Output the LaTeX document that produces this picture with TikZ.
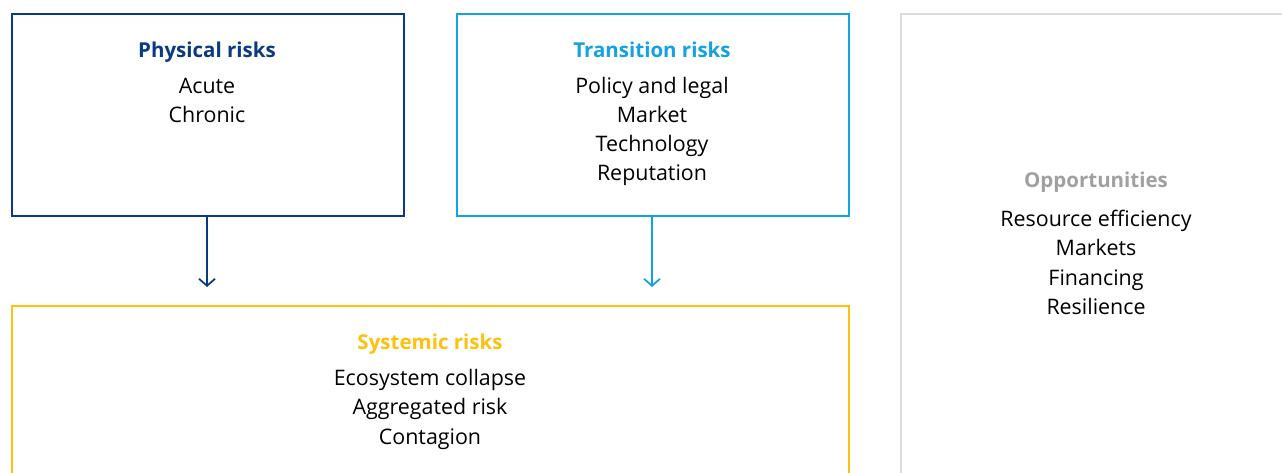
\documentclass[tikz,border=0pt]{standalone}
\usepackage{fontspec}
\setmainfont{Open Sans}
\usetikzlibrary{arrows.meta}
\definecolor{physblue}{HTML}{0B3A84}
\definecolor{transblue}{HTML}{14A2E1}
\definecolor{sysyellow}{HTML}{FFC10E}
\definecolor{oppgray}{HTML}{A0A0A0}
\definecolor{oppline}{HTML}{DCDCDC}
\begin{document}
\begin{tikzpicture}[x=1pt,y=-1pt,
  frame/.style={draw, line width=2pt, fill=none, inner sep=0pt, anchor=north west},
  ttl/.style={anchor=base, inner sep=0pt, font=\fontsize{20.5}{29}\selectfont\bfseries},
  item/.style={anchor=base, inner sep=0pt, font=\fontsize{21.4}{29}\selectfont, text=black},
  flow/.style={line width=1.8pt, -{Straight Barb[length=7pt,width=16pt,line width=1.8pt]}, shorten >=18pt}
]
\useasboundingbox (0,0) rectangle (1282,473);
\clip (0,0) rectangle (1282,473);
% boxes
\node[frame, draw=physblue, minimum width=392pt, minimum height=202pt] (phys) at (11,13) {};
\node[frame, draw=transblue, minimum width=392pt, minimum height=202pt] (trans) at (456,13) {};
\node[frame, draw=oppline, minimum width=420pt, minimum height=500pt] (opp) at (900,13) {};
\node[frame, draw=sysyellow, minimum width=837pt, minimum height=220pt] (sys) at (11,305) {};
% physical
\node[ttl, text=physblue] (physT) at (207,57.5) {Physical risks};
\node[item] (physA) at (207,94) {Acute};
\node[item] (physB) at (207,123) {Chronic};
% transition
\node[ttl, text=transblue] (transT) at (652,57.5) {Transition risks};
\node[item] (transA) at (652,94) {Policy and legal};
\node[item] (transB) at (652,123) {Market};
\node[item] (transC) at (652,152) {Technology};
\node[item] (transD) at (652,181) {Reputation};
% opportunities
\node[ttl, text=oppgray] (oppT) at (1096,187.5) {Opportunities};
\node[item] (oppA) at (1096,226) {Resource efficiency};
\node[item] (oppB) at (1096,255) {Markets};
\node[item] (oppC) at (1096,285) {Financing};
\node[item] (oppD) at (1096,314) {Resilience};
% systemic
\node[ttl, text=sysyellow] (sysT) at (430,349.5) {Systemic risks};
\node[item] (sysA) at (430,385) {Ecosystem collapse};
\node[item] (sysB) at (430,414) {Aggregated risk};
\node[item] (sysC) at (430,444) {Contagion};
% arrows
\draw[flow, draw=physblue] (phys.south -| 207,0) -- (sys.north -| 207,0);
\draw[flow, draw=transblue] (trans.south -| 652,0) -- (sys.north -| 652,0);
\end{tikzpicture}
\end{document}
